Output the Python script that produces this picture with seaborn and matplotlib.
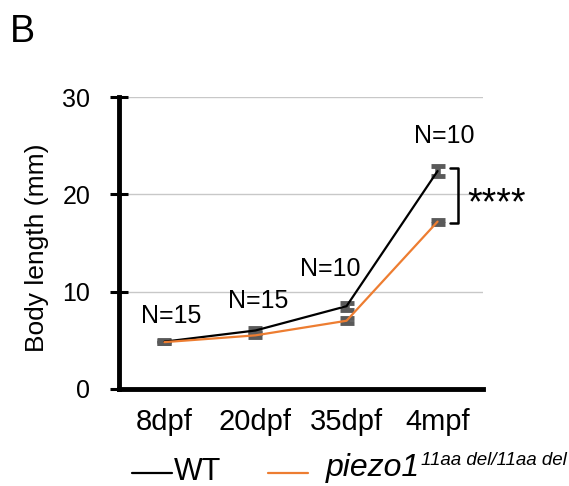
import matplotlib
matplotlib.use("Agg")
import matplotlib.pyplot as plt
import seaborn as sns
import pandas as pd
from matplotlib.lines import Line2D

# ---- data ----
stages = ["8dpf", "20dpf", "35dpf", "4mpf"]
wt_mean = [4.85, 6.0, 8.5, 22.4]
wt_err = [0.12, 0.25, 0.35, 0.5]
mut_mean = [4.8, 5.5, 7.0, 17.2]
mut_err = [0.1, 0.2, 0.25, 0.2]
n_labels = ["N=15", "N=15", "N=10", "N=10"]
n_label_y = [7.5, 9.0, 12.3, 26.0]
n_label_x = [0.07, 1.03, 1.82, 3.07]
yticks = [0, 10, 20, 30]

sns.set_theme(style="white")
plt.rcParams["font.family"] = ["Liberation Sans", "DejaVu Sans"]
plt.rcParams["text.color"] = "black"
plt.rcParams["axes.labelcolor"] = "black"

df = pd.DataFrame({
    "stage": stages * 2,
    "x": list(range(len(stages))) * 2,
    "length": wt_mean + mut_mean,
    "err": wt_err + mut_err,
    "group": ["WT"] * 4 + ["mut"] * 4,
})

fig = plt.figure(figsize=(5.69, 4.86), dpi=100)
ax = fig.add_axes([0.209, 0.2, 0.64, 0.6])

# grid
for yv in yticks[1:]:
    ax.axhline(yv, color="#c8c8c8", lw=1.0, zorder=0)

sns.lineplot(data=df, x="x", y="length", hue="group",
             palette={"WT": "black", "mut": "#ED7D31"},
             lw=1.6, ax=ax, legend=False, zorder=3)

for grp in ["WT", "mut"]:
    sub = df[df.group == grp]
    ax.errorbar(sub["x"], sub["length"], yerr=sub["err"], fmt="none",
                ecolor="#5a5a5a", elinewidth=4, capsize=5, capthick=3.5,
                zorder=2)

for xv, yv, t in zip(n_label_x, n_label_y, n_labels):
    ax.text(xv, yv, t, ha="center", va="center", fontsize=18, color="black")

# significance bracket
ax.plot([3.14, 3.22, 3.22, 3.14], [wt_mean[3] + 0.3, wt_mean[3] + 0.3,
                                    mut_mean[3] - 0.1, mut_mean[3] - 0.1],
        color="black", lw=1.8, clip_on=False)
ax.text(3.33, 19.0, "****", ha="left", va="center",
        fontsize=27, clip_on=False, color="black")

ax.set_xlim(-0.5, 3.5)
ax.set_ylim(0, 30)
ax.set_xticks(range(len(stages)))
ax.set_xticklabels(stages)
ax.set_yticks(yticks)
ax.set_xlabel("")
ax.set_ylabel("Body length (mm)", fontsize=19, color="black")
ax.yaxis.set_label_coords(-0.193, 0.485)

for s in ["top", "right"]:
    ax.spines[s].set_visible(False)
for s in ["left", "bottom"]:
    ax.spines[s].set_color("black")
    ax.spines[s].set_linewidth(3.5)
ax.spines["bottom"].set_zorder(5)
ax.tick_params(axis="y", direction="inout", length=13, width=2.2,
               labelsize=18, pad=14, left=True, colors="black")
ax.tick_params(axis="x", length=0, labelsize=21, pad=14, colors="black")

# panel letter
fig.text(0.017, 0.972, "B", fontsize=27, ha="left", va="top", color="black")

# legend (manual)
ly = 1 - 473 / 486
base = 1 - 480 / 486
fig.add_artist(Line2D([132 / 569, 172 / 569], [ly, ly], color="black", lw=1.6))
fig.text(174 / 569, base, "WT", fontsize=22, va="baseline", ha="left",
         color="black")
fig.add_artist(Line2D([268 / 569, 308 / 569], [ly, ly], color="#ED7D31", lw=1.6))
t_main = fig.text(326 / 569, 1 - 476 / 486, "piezo1", fontsize=23,
                  style="italic", va="baseline", ha="left", color="black")
fig.canvas.draw()
bb = t_main.get_window_extent()
fig.text(bb.x1 / 569 + 0.002, 1 - 465 / 486, "11aa del/11aa del",
         fontsize=13.5, style="italic", va="baseline", ha="left",
         color="black")

fig.savefig("out.png", dpi=100)
